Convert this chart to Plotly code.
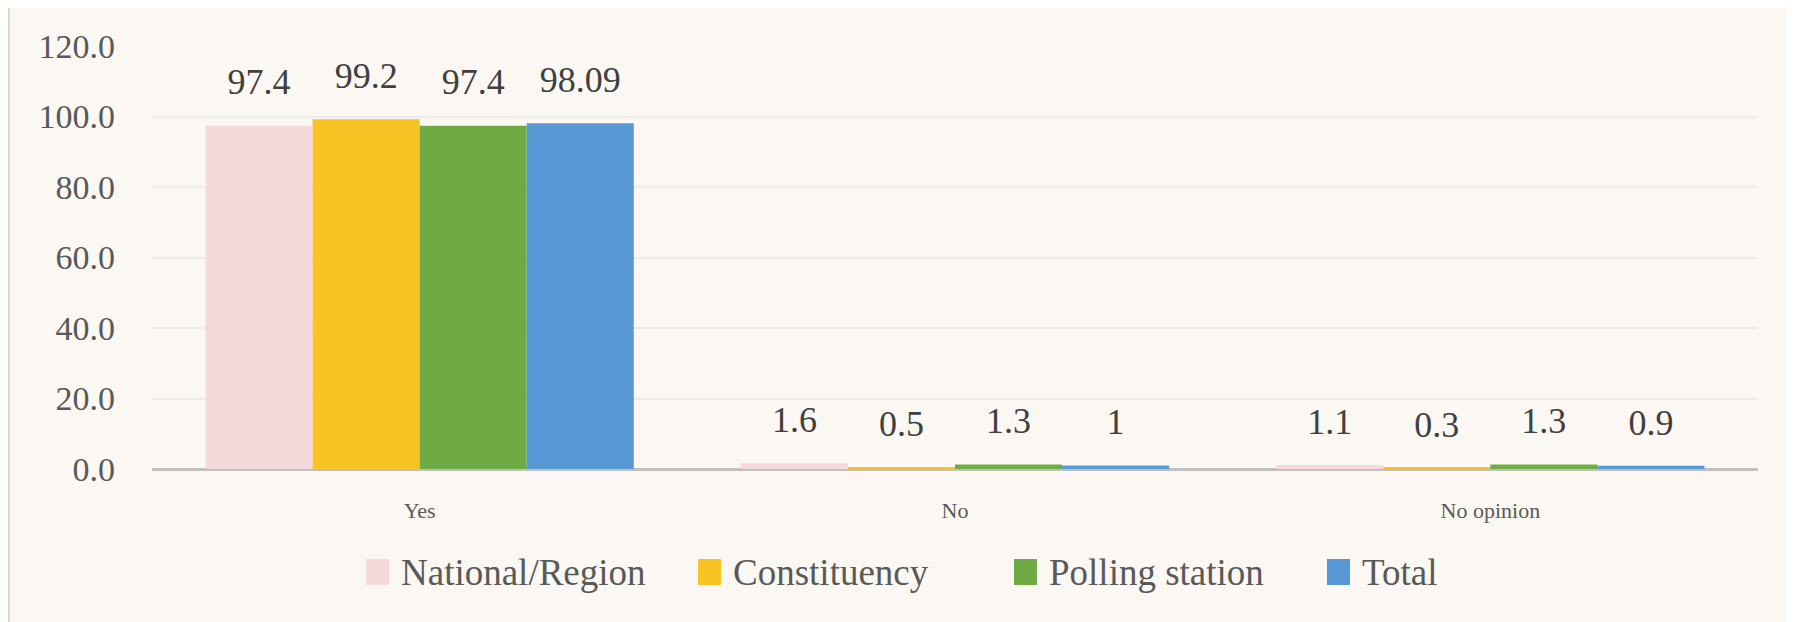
import plotly.graph_objects as go

# survey answers per level
categories = ["Yes", "No", "No opinion"]
series_names = ["National/Region", "Constituency", "Polling station", "Total"]
national = [97.4, 1.6, 1.1]
constituency = [99.2, 0.5, 0.3]
polling = [97.4, 1.3, 1.3]
total = [98.09, 1.0, 0.9]
y_ticks = [0, 20, 40, 60, 80, 100, 120]

values = [national, constituency, polling, total]
colors = ["#F6D9DB", "#F9C225", "#6FAB44", "#5898D5"]

# the page body adds an 8px margin, so figure coords = page coords - 8
OFF = 8
W, H = 1794 - OFF, 622 - OFF
L, R, T, B = 152 - OFF, 36, 46 - OFF, 153
pw, ph = W - L - R, H - T - B

def px(x):
    return (x - OFF - L) / pw

def py(y):
    return (H - B - (y - OFF)) / ph

font = "Liberation Serif"

fig = go.Figure()

for name, vals, col in zip(series_names, values, colors):
    fig.add_trace(go.Bar(x=categories, y=vals, name=name, marker=dict(color=col, line=dict(width=0)),
                         offsetgroup=name, showlegend=False))
    # labels floating above the bars
    fig.add_trace(go.Scatter(x=categories, y=vals, mode="markers+text", text=[f"{v:g}" for v in vals],
                             textposition="top center", offsetgroup=name,
                             marker=dict(size=34, opacity=0), showlegend=False, cliponaxis=False,
                             textfont=dict(family=font, size=36, color="#404040"), hoverinfo="skip"))

# chart frame
shapes = [dict(type="rect", xref="paper", yref="paper", x0=px(9), x1=px(1789), y0=py(660), y1=py(5),
               fillcolor="#FBF8F3", line=dict(color="#D9D9D9", width=2), layer="below")]
annotations = []

# hand-made legend with big square keys
leg_x = [366, 698, 1014, 1327]
leg_y = 572
for name, col, x0 in zip(series_names, colors, leg_x):
    shapes.append(dict(type="rect", xref="paper", yref="paper", x0=px(x0), x1=px(x0 + 23),
                       y0=py(leg_y + 13), y1=py(leg_y - 13), fillcolor=col, line=dict(width=0)))
    annotations.append(dict(xref="paper", yref="paper", x=px(x0 + 33), y=py(leg_y), text=name,
                            showarrow=False, xanchor="left", yanchor="middle",
                            font=dict(family=font, size=37, color="#595959")))

fig.update_layout(
    width=W, height=H,
    margin=dict(l=L, r=R, t=T, b=B),
    paper_bgcolor="white",
    plot_bgcolor="rgba(0,0,0,0)",
    barmode="group", bargap=0.2, bargroupgap=0,
    scattermode="group", scattergap=0.2,
    shapes=shapes, annotations=annotations,
    showlegend=False,
    xaxis=dict(showgrid=False, showline=False, ticks="", ticklabelstandoff=26,
               tickfont=dict(family=font, size=22, color="#595959")),
    yaxis=dict(range=[0, 120], tickvals=y_ticks, tickformat=".1f", showgrid=True,
               gridcolor="#ECECEC", gridwidth=1.5, zeroline=True, zerolinecolor="#BFBFBF",
               zerolinewidth=3, ticks="", ticklabelstandoff=36,
               tickfont=dict(family=font, size=34, color="#595959")),
)

fig.write_html("out.html")
